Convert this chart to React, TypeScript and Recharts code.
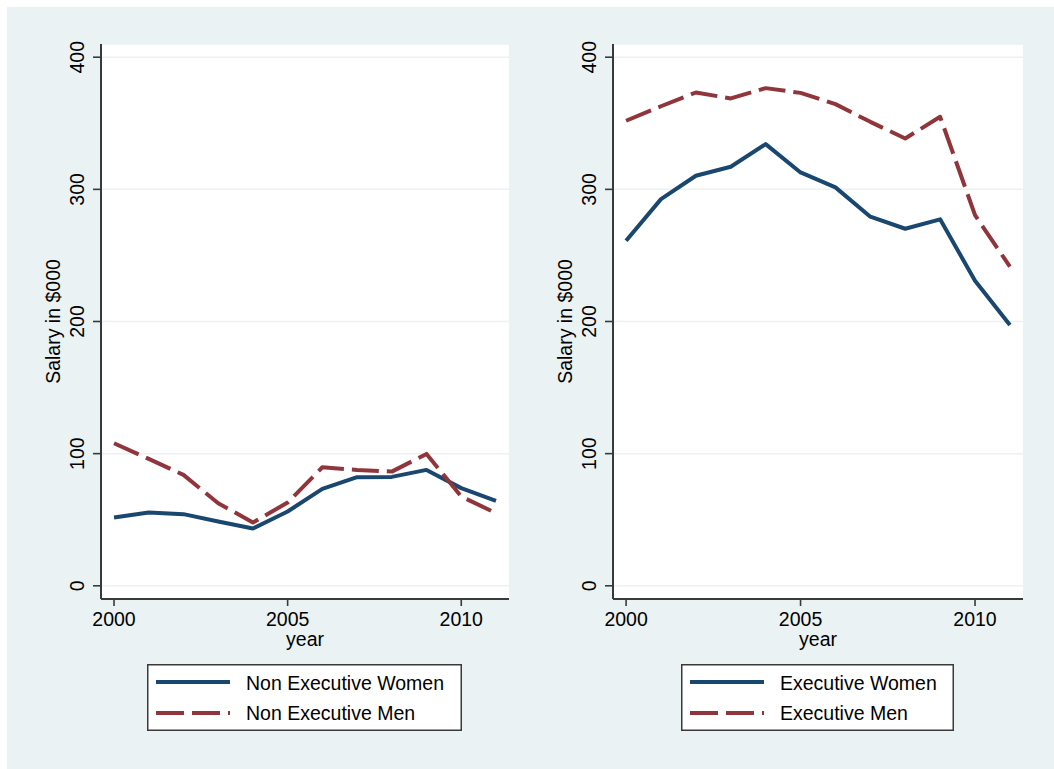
import React from 'react';
import { LineChart, Line, XAxis, YAxis, CartesianGrid } from 'recharts';

const years = [2000, 2001, 2002, 2003, 2004, 2005, 2006, 2007, 2008, 2009, 2010, 2011];
const nonExecWomen = [51.6, 55.4, 54.2, 48.6, 43.3, 56.2, 73.3, 82.2, 82.4, 87.7, 73.9, 64.3];
const nonExecMen = [107.9, 96.0, 83.9, 62.5, 47.9, 63.0, 89.7, 87.7, 86.4, 99.8, 67.5, 55.0];
const execWomen = [261.1, 292.6, 310.3, 317.1, 334.2, 312.8, 301.5, 279.3, 270.2, 277.3, 230.9, 197.4];
const execMen = [351.9, 362.9, 373.3, 368.8, 376.6, 373.0, 364.5, 351.1, 338.5, 354.9, 280.5, 241.5];
const yTicks = [0, 100, 200, 300, 400];
const xTicks = [2000, 2005, 2010];
const leftNames = ['Non Executive Women', 'Non Executive Men'];
const rightNames = ['Executive Women', 'Executive Men'];

const NAVY = '#1a476f';
const MAROON = '#90353b';
const BG = '#eaf2f3';
const AXIS = '#3a3a3a';
const FONT = '"Liberation Sans", Arial, Helvetica, sans-serif';
const FS = 19.5;
const DASH = '27 8';

const leftData = years.map((y, i) => ({ year: y, women: nonExecWomen[i], men: nonExecMen[i] }));
const rightData = years.map((y, i) => ({ year: y, women: execWomen[i], men: execMen[i] }));

const YTick = (props: any) => {
  const { x, y, payload } = props;
  const bx = x - 9;
  return (
    <text x={bx} y={y} transform={`rotate(-90 ${bx} ${y})`} textAnchor="middle" fontFamily={FONT} fontSize={FS} fill="#000">
      {payload.value}
    </text>
  );
};

const XTick = (props: any) => {
  const { x, y, payload } = props;
  return (
    <text x={x} y={y + 20} textAnchor="middle" fontFamily={FONT} fontSize={FS} fill="#000">
      {payload.value}
    </text>
  );
};

const yTitle = (p: any) => {
  const vb = p.viewBox || {};
  const bx = vb.x + vb.width - 41;
  const cy = vb.y + vb.height / 2;
  return (
    <text x={bx} y={cy} transform={`rotate(-90 ${bx} ${cy})`} textAnchor="middle" fontFamily={FONT} fontSize={FS} fill="#000">
      Salary in $000
    </text>
  );
};

const xTitle = (p: any) => {
  const vb = p.viewBox || {};
  return (
    <text x={vb.x + vb.width / 2} y={vb.y + 47} textAnchor="middle" fontFamily={FONT} fontSize={FS} fill="#000">
      year
    </text>
  );
};

const Panel = ({ data, left, yAxisWidth, marginRight }: any) => (
  <div style={{ position: 'absolute', left, top: 0 }}>
    <LineChart width={527} height={769} data={data} margin={{ top: 44, right: marginRight, bottom: 0, left: 0 }}>
      <CartesianGrid vertical={false} horizontal={true} stroke={BG} strokeWidth={1.5} fill="#ffffff" fillOpacity={1} />
      <XAxis
        dataKey="year"
        type="number"
        domain={[1999.625, 2011.375]}
        ticks={xTicks}
        allowDataOverflow
        height={170}
        tickSize={7}
        tickMargin={0}
        tick={<XTick />}
        stroke={AXIS}
        strokeWidth={2}
        tickLine={{ stroke: AXIS, strokeWidth: 1.6 }}
        label={{ content: xTitle }}
      />
      <YAxis
        type="number"
        domain={[-10, 410]}
        ticks={yTicks}
        allowDataOverflow
        width={yAxisWidth}
        tickSize={8}
        tickMargin={0}
        tick={<YTick />}
        stroke={AXIS}
        strokeWidth={2}
        tickLine={{ stroke: AXIS, strokeWidth: 1.6 }}
        label={{ content: yTitle }}
      />
      <Line type="linear" dataKey="women" stroke={NAVY} strokeWidth={4} dot={false} isAnimationActive={false} strokeLinejoin="round" />
      <Line type="linear" dataKey="men" stroke={MAROON} strokeWidth={4} dot={false} strokeDasharray={DASH} isAnimationActive={false} strokeLinejoin="round" />
    </LineChart>
  </div>
);

const LegendBox = ({ left, width, names, lineStart }: any) => (
  <div style={{ position: 'absolute', left, top: 664, width, height: 67 }}>
    <svg width={width} height={67} style={{ display: 'block' }}>
      <rect x={0.75} y={0.75} width={width - 1.5} height={65.5} fill="#ffffff" stroke={AXIS} strokeWidth={1.5} />
      <line x1={lineStart} x2={lineStart + 74} y1={18} y2={18} stroke={NAVY} strokeWidth={4} />
      <line x1={lineStart} x2={lineStart + 74} y1={49} y2={49} stroke={MAROON} strokeWidth={4} strokeDasharray="28 8" />
      <text x={lineStart + 90} y={26} fontFamily={FONT} fontSize={FS} fill="#000">{names[0]}</text>
      <text x={lineStart + 90} y={56} fontFamily={FONT} fontSize={FS} fill="#000">{names[1]}</text>
    </svg>
  </div>
);

export default function App() {
  return (
    <div style={{ position: 'absolute', left: 0, top: 0, width: 1054, height: 769, background: '#ffffff', overflow: 'hidden' }}>
      <div style={{ position: 'absolute', left: 7, top: 7, width: 1047, height: 762, background: BG }} />
      <Panel data={leftData} left={0} yAxisWidth={101} marginRight={18} />
      <Panel data={rightData} left={527} yAxisWidth={86} marginRight={31} />
      <LegendBox left={147} width={315} names={leftNames} lineStart={9} />
      <LegendBox left={681} width={273} names={rightNames} lineStart={9} />
    </div>
  );
}
